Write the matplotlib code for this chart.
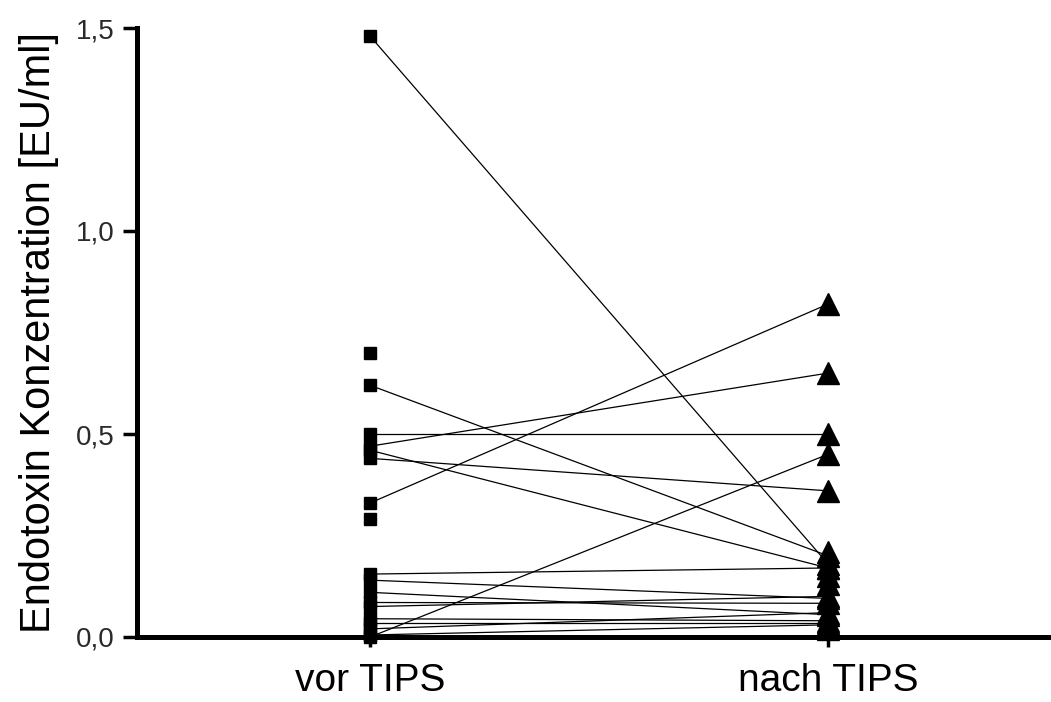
import numpy as np
import matplotlib.pyplot as plt
from matplotlib.ticker import FuncFormatter

plt.rcParams['font.family'] = ['Liberation Sans', 'DejaVu Sans']

# Endotoxin concentrations (EU/ml), paired per patient; nan = no follow-up value
groups = ["vor TIPS", "nach TIPS"]
vor = [1.48, 0.70, 0.62, 0.50, 0.47, 0.46, 0.44, 0.33, 0.29,
       0.155, 0.14, 0.11, 0.085, 0.075, 0.045, 0.035, 0.02, 0.00, 0.005]
nach = [0.18, np.nan, 0.20, 0.50, 0.65, 0.17, 0.36, 0.82, np.nan,
        0.17, 0.095, 0.055, 0.083, 0.10, 0.04, 0.035, 0.06, 0.45, 0.03]
nach_extra = [0.21, 0.15, 0.13, 0.02]  # post values without a pre pair

fig = plt.figure(figsize=(10.51, 7.02), dpi=100)
ax = fig.add_axes([137 / 1051, 65 / 702, 1 - 137 / 1051, 609 / 702])

for a, b in zip(vor, nach):
    if not np.isnan(b):
        ax.plot([0, 1], [a, b], color='black', lw=0.9, zorder=2)

ax.plot(np.zeros(len(vor)), vor, 's', color='black', ms=8, clip_on=False, zorder=3)
post = [v for v in nach if not np.isnan(v)] + nach_extra
ax.plot(np.ones(len(post)), post, '^', color='black', ms=16, clip_on=False, zorder=3)

ax.set_xlim(-0.509, 1.487)
ax.set_ylim(0, 1.5)
ax.set_xticks([0, 1])
ax.set_xticklabels(groups, fontsize=28)
ax.set_yticks([0, 0.5, 1.0, 1.5])
ax.yaxis.set_major_formatter(FuncFormatter(lambda v, p: f"{v:.1f}".replace('.', ',')))
ax.tick_params(axis='y', labelsize=20, length=10, width=2.5, colors='black',
               labelcolor='#2a2a2a', pad=6)
ax.tick_params(axis='x', length=7, width=2.5, pad=12)
ax.set_ylabel("Endotoxin Konzentration [EU/ml]", fontsize=30, labelpad=12)

for s in ['top', 'right']:
    ax.spines[s].set_visible(False)
ax.spines['left'].set_linewidth(3.6)
ax.spines['bottom'].set_linewidth(3.6)
ax.spines['left'].set_zorder(4)
ax.spines['bottom'].set_zorder(4)

fig.savefig("out.png", dpi=100)
